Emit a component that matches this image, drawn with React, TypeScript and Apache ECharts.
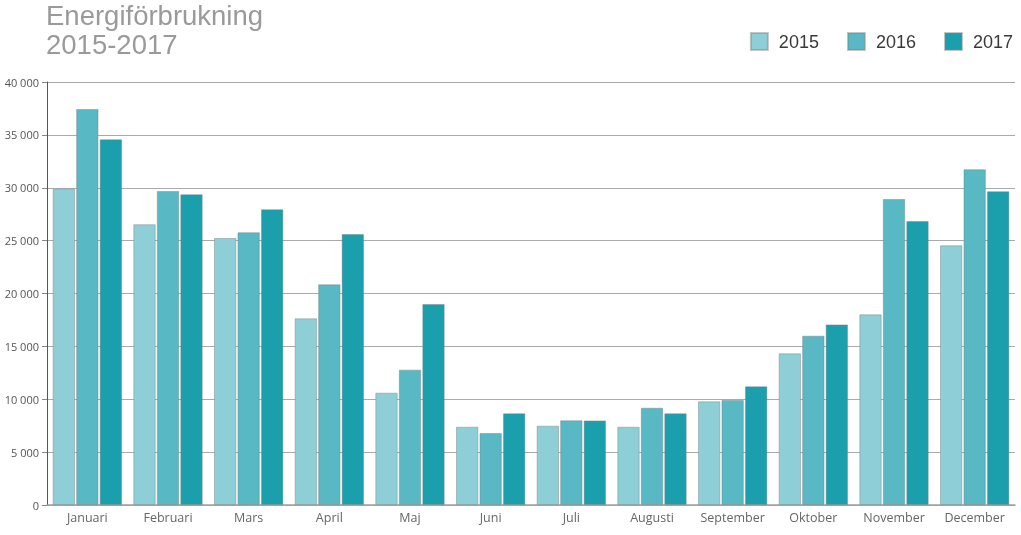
import React, { useEffect, useRef } from "react";
import * as echarts from "echarts";

const months = ["Januari", "Februari", "Mars", "April", "Maj", "Juni", "Juli", "Augusti", "September", "Oktober", "November", "December"];
const years = ["2015", "2016", "2017"];
const values2015 = [29900, 26550, 25250, 17650, 10620, 7400, 7500, 7400, 9800, 14340, 18030, 24560];
const values2016 = [37450, 29700, 25790, 20870, 12800, 6810, 8010, 9200, 9930, 16010, 28940, 31750];
const values2017 = [34580, 29380, 27960, 25630, 19010, 8670, 8000, 8670, 11220, 17080, 26860, 29670];
const colors = ["#8ecfd7", "#58b8c4", "#1b9fad"];
const yTicks = { min: 0, max: 40000, interval: 5000 };

const fmt = (v: number) => {
  if (v === 0) return "0";
  const s = String(v);
  return s.slice(0, s.length - 3) + " " + s.slice(s.length - 3);
};

export default function App() {
  const ref = useRef<HTMLDivElement>(null);
  useEffect(() => {
    if (!ref.current) return;
    const chart = echarts.init(ref.current, null, { renderer: "svg" });
    const seriesData = [values2015, values2016, values2017];
    chart.setOption({
      animation: false,
      title: {
        text: "Energiförbrukning\n2015-2017",
        left: 46,
        top: 1,
        padding: 0,
        textStyle: {
          fontSize: 27.5,
          fontWeight: "normal",
          color: "#9a9a9a",
          fontFamily: "Liberation Sans, Arial, sans-serif",
          lineHeight: 29,
        },
      },
      legend: {
        data: years,
        right: 3,
        top: 27,
        itemWidth: 17,
        itemHeight: 17,
        itemGap: 28,
        icon: "rect",
        textStyle: {
          fontSize: 18,
          color: "#3a3a3a",
          fontFamily: "Liberation Sans, Arial, sans-serif",
          padding: [0, 0, 0, 6],
        },
      },
      grid: { left: 47, right: 6, top: 82, bottom: 30, containLabel: false },
      xAxis: {
        type: "category",
        data: months,
        axisLine: { lineStyle: { color: "#a0a0a0", width: 1.5 } },
        axisTick: { alignWithLabel: true, length: 4, lineStyle: { color: "#a0a0a0" } },
        axisLabel: {
          interval: 0,
          fontSize: 12.5,
          color: "#666",
          fontFamily: "Open Sans, sans-serif",
          margin: 6,
        },
      },
      yAxis: {
        type: "value",
        min: yTicks.min,
        max: yTicks.max,
        interval: yTicks.interval,
        axisLine: { show: true, lineStyle: { color: "#555", width: 1 } },
        axisTick: { show: true, length: 5, lineStyle: { color: "#888" } },
        splitLine: { show: true, lineStyle: { color: "#aaa", width: 1.2 } },
        axisLabel: {
          fontSize: 11,
          color: "#555",
          fontFamily: "Open Sans, sans-serif",
          margin: 8,
          formatter: fmt,
        },
      },
      series: years.map((y, i) => ({
        name: y,
        type: "bar",
        data: seriesData[i],
        barGap: "5%",
        barCategoryGap: "14%",
        itemStyle: {
          color: colors[i],
          borderColor: "rgba(120,130,130,0.45)",
          borderWidth: 1,
        },
      })),
    });
    return () => chart.dispose();
  }, []);
  return (
    <div
      ref={ref}
      style={{ position: "fixed", left: 0, top: 0, width: 1021, height: 535 }}
    />
  );
}
